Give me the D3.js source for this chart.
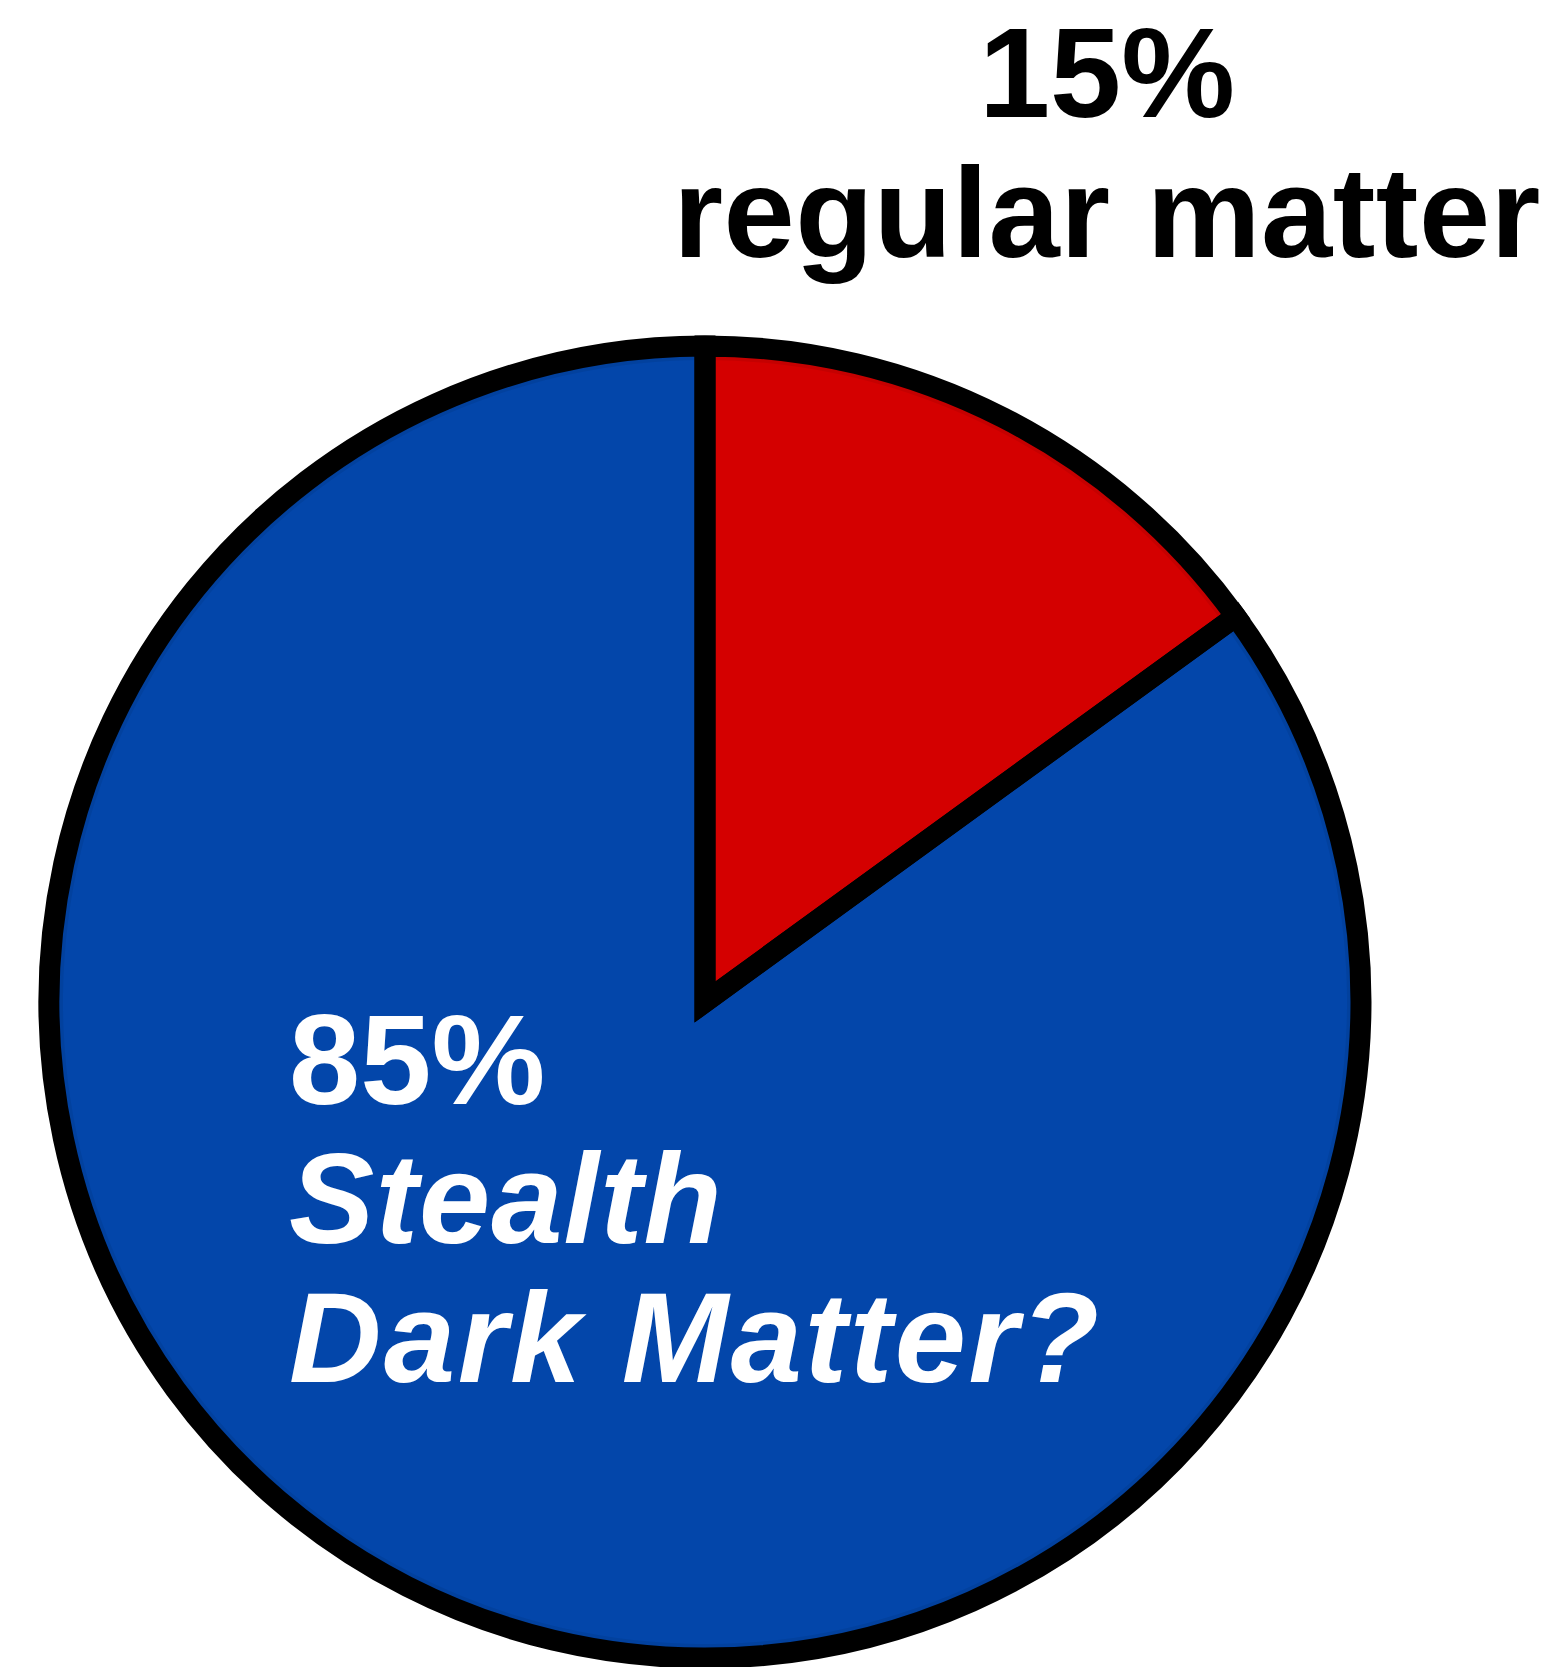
<!DOCTYPE html>
<html><head><meta charset="utf-8">
<script src="https://cdn.jsdelivr.net/npm/d3@7"></script>
<style>html,body{margin:0;padding:0;background:#fff;}svg{display:block;}</style>
</head><body>
<script>
const categories = ["regular matter", "Stealth Dark Matter?"];
const values = [15, 85];
const colors = ["#d40000", "#0346aa"];
const topLabelLines = ["15%", "regular matter"];
const innerLabelLines = ["85%", "Stealth", "Dark Matter?"];

const W = 1558, H = 1667;
const cx = 705, cy = 1002, R = 656;

const svg = d3.select("body").append("svg").attr("width", W).attr("height", H);

const pie = d3.pie().sort(null).value(d => d.v)(values.map((v, i) => ({v, name: categories[i], color: colors[i]})));
const arc = d3.arc().innerRadius(0).outerRadius(R);

const g = svg.append("g").attr("transform", `translate(${cx},${cy})`);
g.selectAll("path.slice").data(pie).join("path")
  .attr("class", "slice")
  .attr("d", arc)
  .attr("fill", d => d.data.color);

// subtle darker rim inside the outline
const rim = d3.arc().innerRadius(R - 14).outerRadius(R);
g.selectAll("path.rim").data(pie).join("path")
  .attr("class", "rim")
  .attr("d", rim)
  .attr("fill", "rgba(0,0,0,0.07)");

g.selectAll("path.outline").data(pie).join("path")
  .attr("class", "outline")
  .attr("d", arc)
  .attr("fill", "none")
  .attr("stroke", "#000")
  .attr("stroke-width", 21)
  .attr("stroke-linejoin", "miter");

const font = "'Liberation Sans', Arial, Helvetica, sans-serif";

svg.append("text")
  .attr("x", 1107).attr("y", 117)
  .attr("text-anchor", "middle")
  .attr("font-family", font).attr("font-weight", "bold").attr("font-size", 128)
  .attr("fill", "#000")
  .selectAll("tspan").data(topLabelLines).join("tspan")
  .attr("x", 1107).attr("dy", (d, i) => i === 0 ? 0 : 140)
  .attr("letter-spacing", (d, i) => i === 0 ? 0 : 0.5)
  .text(d => d);

const inner = svg.append("text")
  .attr("x", 289).attr("y", 1104)
  .attr("font-family", font).attr("font-weight", "bold").attr("font-size", 128)
  .attr("fill", "#fff");
inner.selectAll("tspan").data(innerLabelLines).join("tspan")
  .attr("x", 289).attr("dy", (d, i) => i === 0 ? 0 : 139)
  .attr("font-style", (d, i) => i === 0 ? "normal" : "italic")
  .attr("letter-spacing", (d, i) => i === 0 ? 0 : (i === 1 ? 1 : 2.5))
  .text(d => d);
</script>
</body></html>
